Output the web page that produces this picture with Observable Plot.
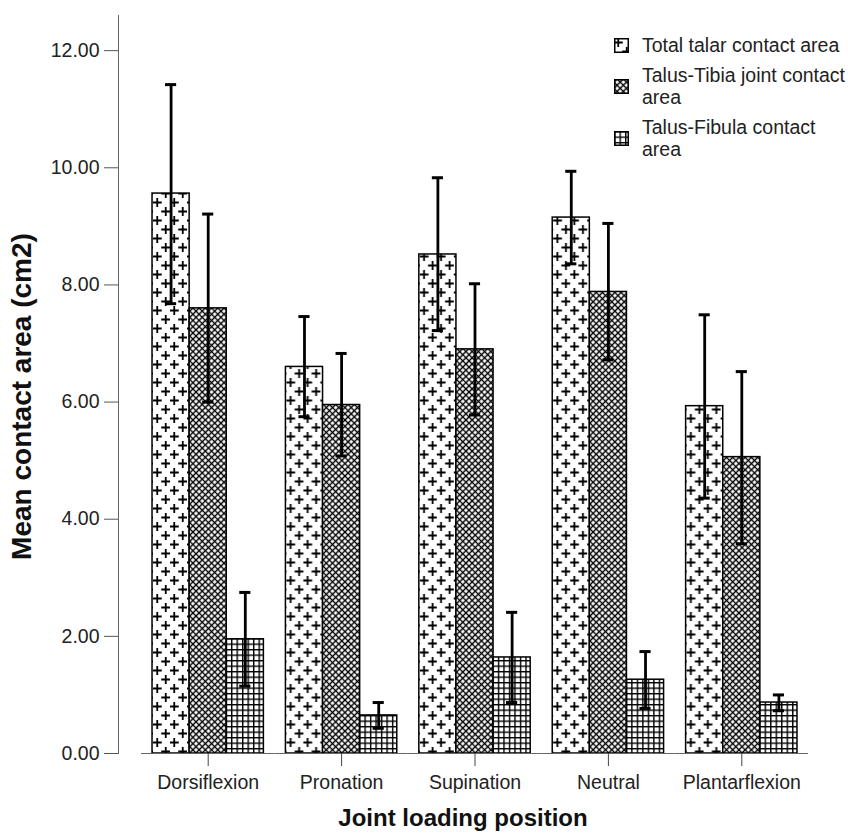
<!DOCTYPE html>
<html>
<head>
<meta charset="utf-8">
<script src="https://cdn.jsdelivr.net/npm/d3@7"></script>
<script src="https://cdn.jsdelivr.net/npm/@observablehq/plot@0.6"></script>
<style>
  body { margin: 0; background: #fff; }
  #wrap { position: relative; width: 848px; height: 837px; font-family: "Liberation Sans", Arial, sans-serif; }
  #legend { position: absolute; left: 614px; top: 34px; font-size: 19.5px; line-height: 22px; color: #222; white-space: nowrap; }
  #legend .row { display: flex; align-items: center; margin-bottom: 8px; }
  #legend .row svg { margin-right: 13px; flex: none; }
</style>
</head>
<body>
<svg width="0" height="0" style="position:absolute">
  <defs>
    <pattern id="pat0" patternUnits="userSpaceOnUse" width="17" height="18">
      <rect width="17" height="18" fill="#fff"/>
      <path d="M4.25 0v9M-0.25 4.5h9M12.75 9v9M8.25 13.5h9" stroke="#000" stroke-width="1.8"/>
    </pattern>
    <pattern id="pat1" patternUnits="userSpaceOnUse" width="4.4" height="4.4" patternTransform="rotate(45)">
      <rect width="4.4" height="4.4" fill="#fff"/>
      <path d="M0 2.2H4.4M2.2 0V4.4" stroke="#000" stroke-width="1.45"/>
    </pattern>
    <pattern id="pat2" patternUnits="userSpaceOnUse" width="5.5" height="5.5">
      <rect width="5.5" height="5.5" fill="#fff"/>
      <path d="M0 0.7H5.5M0.7 0V5.5" stroke="#000" stroke-width="1.4"/>
    </pattern>
  </defs>
</svg>
<div id="wrap"><div id="legend"></div></div>
<script>
// ---- data ----
const categories = ["Dorsiflexion", "Pronation", "Supination", "Neutral", "Plantarflexion"];
const seriesNames = ["Total talar contact area", "Talus-Tibia joint contact area", "Talus-Fibula contact area"];
const legendLines = [["Total talar contact area"], ["Talus-Tibia joint contact", "area"], ["Talus-Fibula contact", "area"]];
const xTitle = "Joint loading position";
const yTitle = "Mean contact area (cm2)";

const totalMean  = [9.56, 6.60, 8.52, 9.15, 5.93];
const totalLow   = [7.68, 5.75, 7.22, 8.36, 4.36];
const totalHigh  = [11.42, 7.46, 9.83, 9.94, 7.49];

const tibiaMean  = [7.60, 5.95, 6.90, 7.88, 5.06];
const tibiaLow   = [6.00, 5.08, 5.78, 6.72, 3.58];
const tibiaHigh  = [9.21, 6.83, 8.02, 9.05, 6.52];

const fibulaMean = [1.95, 0.65, 1.64, 1.26, 0.87];
const fibulaLow  = [1.15, 0.43, 0.87, 0.77, 0.73];
const fibulaHigh = [2.75, 0.87, 2.41, 1.74, 1.00];

const yTicks = [0, 2, 4, 6, 8, 10, 12];

// ---- table built from the arrays ----
const means = [totalMean, tibiaMean, fibulaMean];
const lows = [totalLow, tibiaLow, fibulaLow];
const highs = [totalHigh, tibiaHigh, fibulaHigh];
const rows = [];
categories.forEach((c, i) => {
  seriesNames.forEach((s, si) => {
    rows.push({category: c, series: s, fillId: `url(#pat${si})`, mean: means[si][i], low: lows[si][i], high: highs[si][i]});
  });
});
// x title sits under the middle category column
const xTitleRow = [{category: categories[2], text: xTitle}];

const chart = Plot.plot({
  width: 848,
  height: 837,
  marginLeft: 141,
  marginRight: 40,
  marginTop: 15,
  marginBottom: 84,
  style: {fontFamily: "'Liberation Sans', Arial, sans-serif", fontSize: "19.5px", color: "#222", background: "#fff"},
  fx: {domain: categories, padding: 0, round: false},
  x: {domain: seriesNames, paddingInner: 0, paddingOuter: 0.297, round: false, axis: null},
  y: {domain: [0, 12.6]},
  color: {type: "identity"},
  marks: [
    Plot.barY(rows, {fx: "category", x: "series", y: "mean", fill: "fillId", stroke: "#000", strokeWidth: 1.5}),
    Plot.ruleX(rows, {fx: "category", x: "series", y1: "low", y2: "high", stroke: "#000", strokeWidth: 2.8}),
    Plot.tickY(rows, {fx: "category", x: "series", y: "high", stroke: "#000", strokeWidth: 3, insetLeft: 13, insetRight: 13}),
    Plot.tickY(rows, {fx: "category", x: "series", y: "low", stroke: "#000", strokeWidth: 3, insetLeft: 13, insetRight: 13}),
    Plot.ruleY([0], {stroke: "#666", strokeWidth: 1.2}),
    Plot.axisY(yTicks, {tickFormat: d => d.toFixed(2), tickSize: 14, tickPadding: 5, dx: -23, stroke: "#555", fill: "#222", label: null}),
    Plot.frame({anchor: "left", facetAnchor: "left", dx: -23, stroke: "#666"}),
    Plot.axisFx({anchor: "bottom", tickSize: 13, tickPadding: 9, stroke: "#444", fill: "#222", label: null}),
    // axis titles
    Plot.text([yTitle], {text: d => d, frameAnchor: "left", facetAnchor: "left", rotate: -90, textAnchor: "middle",
      lineAnchor: "middle", dx: -119, dy: 12, fontSize: 28, fontWeight: "bold", fill: "#111"}),
    Plot.text(xTitleRow, {fx: "category", text: "text", frameAnchor: "bottom", dx: -12, dy: 72,
      fontSize: 24, fontWeight: "bold", fill: "#111"})
  ]
});
document.getElementById("wrap").prepend(chart);

// legend
const legend = d3.select("#legend");
legendLines.forEach((lines, si) => {
  const row = legend.append("div").attr("class", "row");
  const sw = row.append("svg").attr("width", 15).attr("height", 15);
  sw.append("rect").attr("x", 0.75).attr("y", 0.75).attr("width", 13.5).attr("height", 13.5)
    .attr("fill", `url(#pat${si})`).attr("stroke", "#000").attr("stroke-width", 1.5);
  const t = row.append("div");
  lines.forEach((l, k) => { if (k) t.append("br"); t.append("span").text(l); });
});
</script>
</body>
</html>
